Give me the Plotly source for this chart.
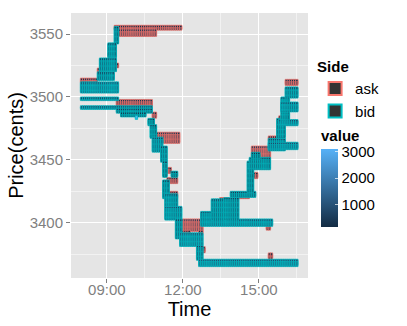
import plotly.graph_objects as go

# order book levels: start time, end time, low price, high price, size
ASK_START = ["08:00", "09:20", "09:25", "09:05", "08:40", "09:20", "09:25", "10:50", "11:00",
             "11:25", "11:25", "11:25", "11:55", "11:55", "12:40", "12:45", "13:30", "14:05",
             "14:40", "14:45", "15:25", "15:50", "16:05", "15:20", "15:25", "12:45"]
ASK_END = ["08:35", "11:55", "10:55", "09:10", "08:50", "09:25", "10:45", "10:55", "11:50",
           "11:30", "11:45", "11:45", "12:45", "12:15", "12:45", "12:50", "13:45", "14:35",
           "14:55", "15:25", "15:55", "16:00", "16:30", "15:25", "15:30", "12:55"]
ASK_LOW = [3512, 3554, 3549, 3533, 3520, 3524, 3493, 3484, 3464, 3440, 3432, 3420, 3394,
           3392, 3392, 3377, 3417, 3420, 3436, 3452, 3466, 3482, 3510, 3395, 3372, 3405]
ASK_HIGH = [3514, 3556, 3553, 3534, 3522, 3526, 3497, 3487, 3471, 3443, 3435, 3424, 3402,
            3393, 3393, 3380, 3419, 3422, 3439, 3460, 3468, 3484, 3513, 3398, 3375, 3407]
ASK_VALUE = [320, 250, 410, 200, 180, 190, 360, 230, 450, 190, 260, 300, 520,
             210, 210, 170, 220, 200, 190, 560, 280, 240, 330, 160, 150, 180]

BID_START = ["09:20", "09:05", "08:45", "08:40", "08:00", "08:00", "08:00", "09:25", "09:35",
             "10:10", "10:40", "10:45", "10:50", "11:10", "11:15", "11:35", "11:15", "11:20",
             "11:20", "11:45", "11:55", "12:35", "12:40", "12:45", "12:45", "13:10", "13:40",
             "13:55", "14:35", "14:40", "14:45", "15:25", "15:25", "15:45", "15:50", "15:55",
             "15:55", "16:05"]
BID_END = ["09:25", "09:20", "09:20", "09:15", "09:25", "09:25", "10:45", "10:45", "10:30",
           "10:10", "10:50", "10:55", "11:10", "11:20", "11:20", "11:45", "11:25", "11:45",
           "11:55", "11:55", "12:45", "12:45", "16:30", "15:30", "13:10", "13:40", "14:10",
           "14:50", "14:45", "15:25", "15:00", "16:00", "16:30", "16:00", "16:30", "16:10",
           "16:30", "16:30"]
BID_LOW = [3543, 3532, 3521, 3514, 3504, 3498, 3491, 3488, 3485, 3483, 3478, 3468, 3457,
           3449, 3437, 3437, 3420, 3413, 3403, 3388, 3382, 3371, 3366, 3398, 3403, 3403,
           3403, 3421, 3425, 3443, 3451, 3458, 3459, 3468, 3478, 3482, 3489, 3500]
BID_HIGH = [3555, 3542, 3530, 3519, 3511, 3499, 3492, 3490, 3487, 3484, 3482, 3477, 3467,
            3460, 3448, 3440, 3433, 3422, 3412, 3402, 3391, 3381, 3370, 3402, 3408, 3418,
            3419, 3424, 3448, 3451, 3455, 3466, 3463, 3482, 3481, 3499, 3495, 3507]
BID_VALUE = [350, 420, 520, 460, 800, 560, 700, 400, 280, 3100, 300, 340, 620,
             430, 280, 170, 380, 540, 700, 460, 850, 560, 900, 820, 640, 560,
             520, 420, 320, 500, 280, 640, 760, 400, 700, 450, 650, 520]

X_TICKS = ["09:00", "12:00", "15:00"]
Y_TICKS = [3400, 3450, 3500, 3550]

TIME_STEP = 5  # minutes per tile


def to_minutes(s):
    h, m = s.split(":")
    return int(h) * 60 + int(m)


def expand(starts, ends, lows, highs, values):
    """Turn each level block into one tile per time step and cent."""
    xs, ys, cs = [], [], []
    for s, e, lo, hi, v in zip(starts, ends, lows, highs, values):
        t = to_minutes(s)
        while t <= to_minutes(e):
            for p in range(lo, hi + 1):
                xs.append(t / 60)
                ys.append(p)
                cs.append(v)
            t += TIME_STEP
    return xs, ys, cs


ASK_COLOR = "#F8766D"
BID_COLOR = "#00BFC4"

fig = go.Figure()
for name, color, cols in [("ask", ASK_COLOR, (ASK_START, ASK_END, ASK_LOW, ASK_HIGH, ASK_VALUE)),
                          ("bid", BID_COLOR, (BID_START, BID_END, BID_LOW, BID_HIGH, BID_VALUE))]:
    xs, ys, cs = expand(*cols)
    fig.add_trace(go.Scatter(
        x=xs, y=ys, mode="markers", showlegend=False, hoverinfo="skip",
        marker=dict(symbol="square", size=2.4, color=cs, coloraxis="coloraxis",
                    line=dict(color=color, width=0.7))))
    # legend key only
    fig.add_trace(go.Scatter(
        x=[None], y=[None], mode="markers", name=name,
        marker=dict(symbol="square", size=13, color="#333333", line=dict(color=color, width=2))))

font = "Liberation Sans, Arial, sans-serif"
fig.update_layout(
    width=407, height=326,
    margin=dict(l=71, r=99, t=13, b=48),
    paper_bgcolor="white", plot_bgcolor="#E5E5E5",
    font=dict(family=font, size=15, color="black"),
    legend=dict(title=dict(text="<b>Side</b>", font=dict(size=15)),
                x=1.03, y=0.85, xanchor="left", yanchor="top",
                font=dict(size=15), tracegroupgap=0, itemwidth=30,
                bgcolor="rgba(0,0,0,0)"),
    coloraxis=dict(
        colorscale=[[0, "#132B43"], [1, "#56B1F7"]],
        colorbar=dict(title=dict(text="<b>value</b>", side="top", font=dict(size=15)),
                      x=1.055, xanchor="left", xpad=0, y=0.57, yanchor="top", ypad=0,
                      len=100, lenmode="pixels", thickness=17, outlinewidth=0,
                      tickvals=[1000, 2000, 3000], ticks="inside", ticklen=3,
                      tickcolor="rgba(255,255,255,0.7)", tickfont=dict(size=15))),
)

hours = [to_minutes(t) / 60 for t in X_TICKS]
fig.update_xaxes(
    range=[7.583, 16.94], tickvals=hours, ticktext=X_TICKS, automargin=False,
    ticks="outside", ticklen=4, tickcolor="#7F7F7F", ticklabelstandoff=-6,
    tickfont=dict(size=15, color="#7F7F7F"),
    showgrid=True, gridcolor="white", gridwidth=1.3, zeroline=False, showline=False,
    minor=dict(tickvals=[10.5, 13.5, 16.5], showgrid=True, gridcolor="#F2F2F2", gridwidth=0.6),
    title=dict(text="Time", font=dict(size=20), standoff=0))
fig.update_yaxes(
    range=[3356, 3566.7], tickvals=Y_TICKS, automargin=False,
    ticks="outside", ticklen=4, tickcolor="#7F7F7F",
    tickfont=dict(size=15, color="#7F7F7F"),
    showgrid=True, gridcolor="white", gridwidth=1.3, zeroline=False, showline=False,
    minor=dict(tickvals=[3375, 3425, 3475, 3525], showgrid=True, gridcolor="#F2F2F2", gridwidth=0.6),
    title=dict(text="Price(cents)", font=dict(size=20), standoff=0))

# the page would otherwise add the browser's default 8px body margin
fig.write_html("out.html", config={"displayModeBar": False},
               post_script="document.body.style.margin = '0px';")
